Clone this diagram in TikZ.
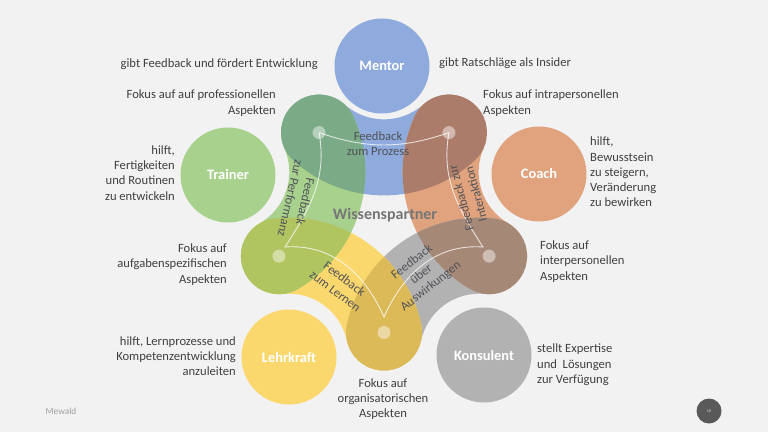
\documentclass[tikz,border=0pt]{standalone}
\usepackage{fontspec}
\setmainfont{Carlito}
\usetikzlibrary{calc}
\definecolor{bgc}{RGB}{242,242,242}
\definecolor{cblue}{RGB}{143,170,220}
\definecolor{cgreen}{RGB}{169,209,142}
\definecolor{corange}{RGB}{224,163,125}
\definecolor{cyellow}{RGB}{250,216,110}
\definecolor{cgray}{RGB}{178,178,178}
\definecolor{ltl}{RGB}{122,170,134}
\definecolor{ltr}{RGB}{172,124,106}
\definecolor{lrr}{RGB}{166,136,118}
\definecolor{lbb}{RGB}{220,186,88}
\definecolor{lll}{RGB}{176,196,96}
\definecolor{txt}{RGB}{64,64,64}
\definecolor{fbtxt}{RGB}{80,82,88}
\definecolor{wpcol}{RGB}{118,118,118}
\definecolor{mewcol}{RGB}{160,160,160}
\definecolor{pgcol}{RGB}{89,89,89}
% band around outer centre at angle #1 (from O), from dot to dot
\newcommand\bandpath[1]{($(O)+(#1:162)$) ++({#1+138.2}:135.4)
  arc[start angle={#1+138.2}, end angle={#1+221.8}, radius=135.4]
  arc[start angle={#1+221.8}, end angle={#1+401.8}, radius=38]
  arc[start angle={#1+221.8}, end angle={#1+138.2}, radius=59.4]
  arc[start angle={#1+318.2}, end angle={#1+498.2}, radius=38] -- cycle}
\tikzset{
  outer/.style={circle, inner sep=0pt, minimum size=95pt, text=white,
    font=\fontsize{14.4}{16}\selectfont\bfseries},
  desc/.style={inner sep=0pt, text=txt, font=\fontsize{12.6}{15.3}\selectfont},
  fblabel/.style={inner sep=0pt, text=fbtxt, align=center,
    font=\fontsize{12.6}{15.3}\selectfont},
  thinline/.style={draw=white, draw opacity=.75, line width=0.9pt},
  dotc/.style={fill=white, fill opacity=.45}
}
\begin{document}
\begin{tikzpicture}[x=1pt,y=1pt]
\useasboundingbox (0,0) rectangle (768,432);
\fill[bgc] (0,0) rectangle (768,432);
\coordinate (O) at (384,210);
% bands
\fill[cblue]   \bandpath{90};
\fill[corange] \bandpath{18};
\fill[cgray]   \bandpath{-54};
\fill[cyellow] \bandpath{-126};
\fill[cgreen]  \bandpath{162};
% overlap lobes
\begin{scope}\clip \bandpath{90};  \fill[ltl] \bandpath{162}; \end{scope}
\begin{scope}\clip \bandpath{90};  \fill[ltr] \bandpath{18};  \end{scope}
\begin{scope}\clip \bandpath{18};  \fill[lrr] \bandpath{-54}; \end{scope}
\begin{scope}\clip \bandpath{-54}; \fill[lbb] \bandpath{-126};\end{scope}
\begin{scope}\clip \bandpath{-126};\fill[lll] \bandpath{162}; \end{scope}
% dots
\coordinate (dA) at ($(O)+(126:110.5)$);
\coordinate (dB) at ($(O)+(54:110.5)$);
\coordinate (dR) at ($(O)+(-18:110.5)$);
\coordinate (dD) at ($(O)+(-90:110.5)$);
\coordinate (dL) at ($(O)+(198:110.5)$);
\coordinate (V3) at (483,185);
\coordinate (V4) at (384,115);
\coordinate (V5) at (285,185);
\draw[thinline] (dA) to[bend right=19] (dB) to[out=260,in=123] (V3)
  to[out=176,in=66] (V4) to[out=114,in=4] (V5) to[out=57,in=-80] (dA);
\foreach \d in {dA,dB,dR,dD,dL} \fill[dotc] (\d) circle (6.5);
% outer circles
\node[outer, fill=cblue]   (mentor) at (382,366) {Mentor};
\node[outer, fill=corange] (coach)  at (539,258) {Coach};
\node[outer, fill=cgray]   (kons)   at (484,77)  {Konsulent};
\node[outer, fill=cyellow] (lehr)   at (289,75)  {Lehrkraft};
\node[outer, fill=cgreen]  (train)  at (228,257) {Trainer};
% centre title
\node[inner sep=0pt, text=wpcol, font=\fontsize{16}{18}\selectfont\bfseries] (wp) at (385,217) {Wissenspartner};
% feedback labels
\node[fblabel] (fb1) at (378,288.5) {Feedback\\zum Prozess};
\node[fblabel, rotate=-103] (fb2) at (298,232) {Feedback\\zur Performanz};
\node[fblabel, rotate=105] (fb3) at (468.5,236) {Feedback zur\\Interaktion};
\node[fblabel, rotate=-37] (fb4) at (340,147) {Feedback\\zum Lernen};
\node[fblabel, rotate=38] (fb5) at (421.5,157.5) {Feedback\\über\\Auswirkungen};
% descriptions
\node[desc, anchor=east] (t1) at (318,368) {gibt Feedback und fördert Entwicklung};
\node[desc, anchor=west] (t2) at (439,369) {gibt Ratschläge als Insider};
\node[desc, anchor=east, align=right] (t3) at (276,329) {Fokus auf auf professionellen\\Aspekten};
\node[desc, anchor=west, align=left] (t4) at (483,329) {Fokus auf intrapersonellen\\Aspekten};
\node[desc, anchor=east, align=right] (t5) at (175,259) {hilft,\\Fertigkeiten\\und Routinen\\zu entwickeln};
\node[desc, anchor=west, align=left] (t6) at (590,260) {hilft,\\Bewusstsein\\zu steigern,\\Veränderung\\zu bewirken};
\node[desc, anchor=east, align=right] (t7) at (227,167.5) {Fokus auf\\aufgabenspezifischen\\Aspekten};
\node[desc, anchor=west, align=left] (t8) at (540,170.5) {Fokus auf\\interpersonellen\\Aspekten};
\node[desc, anchor=east, align=right] (t9) at (236,76) {hilft, Lernprozesse und\\Kompetenzentwicklung\\anzuleiten};
\node[desc, anchor=west, align=left] (t10) at (537,67) {stellt Expertise\\und\ \ Lösungen\\zur Verfügung};
\node[desc, align=center] (t11) at (383,33) {Fokus auf\\organisatorischen\\Aspekten};
% footer
\node[inner sep=0pt, text=mewcol, font=\fontsize{9.3}{11}\selectfont] (mew) at (61,21) {Mewald};
\node[circle, fill=pgcol, inner sep=0pt, minimum size=25pt, text=white!80!pgcol,
  font=\fontsize{4}{4}\selectfont] (pg) at (709,21) {18};
\end{tikzpicture}
\end{document}
